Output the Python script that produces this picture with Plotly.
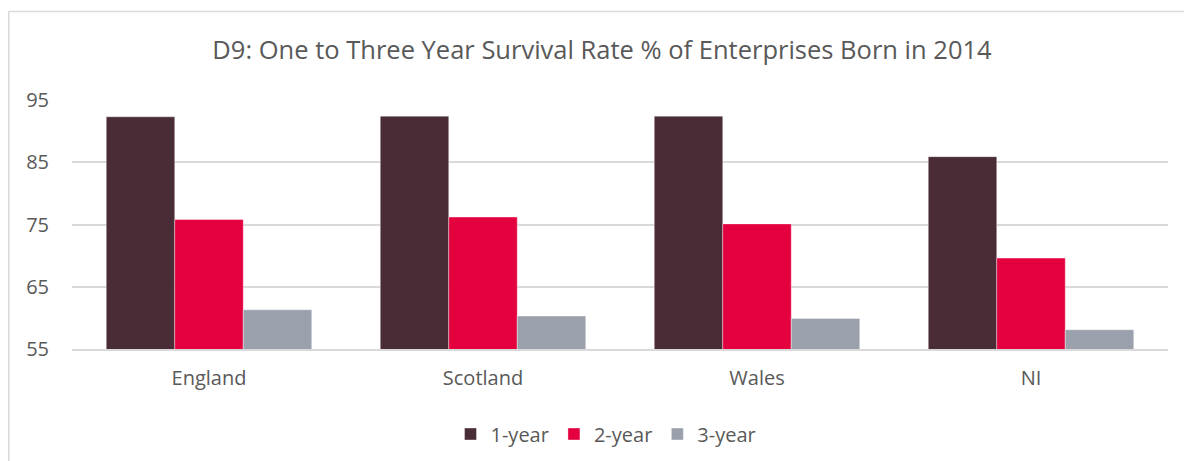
import plotly.graph_objects as go

categories = ["England", "Scotland", "Wales", "NI"]
one_year = [92.3, 92.4, 92.4, 85.9]
two_year = [75.8, 76.2, 75.1, 69.6]
three_year = [61.3, 60.3, 59.9, 58.1]
series_names = ["1-year", "2-year", "3-year"]
colors = ["#4a2c37", "#e4003e", "#9aa0ac"]
y_ticks = [55, 65, 75, 85, 95]

FONT = "Open Sans"
OFF = 8  # page body margin
W, H = 1192 - OFF, 461 - OFF
# plot area in screen pixels: x 72..1168, y 100..349
ml, mr, mt, mb = 72 - OFF, 1192 - 1168, 100 - OFF, 461 - 349
pw, ph = W - ml - mr, H - mt - mb

fig = go.Figure()
for name, vals, c in zip(series_names, [one_year, two_year, three_year], colors):
    fig.add_trace(go.Bar(
        x=categories, y=vals, name=name,
        marker=dict(color=c, line=dict(color="rgba(255,255,255,0.5)", width=0.75)),
    ))

def px_x(p):
    # p: screen pixel
    return (p - OFF - ml) / pw

def px_y(p):
    return (H - mb - (p - OFF)) / ph

shapes = [
    dict(type="line", xref="paper", yref="paper", x0=px_x(8.5), x1=px_x(1192), y0=px_y(11.5), y1=px_y(11.5),
         line=dict(color="#d9d9d9", width=1.5)),
    dict(type="line", xref="paper", yref="paper", x0=px_x(8.75), x1=px_x(8.75), y0=px_y(11.5), y1=px_y(461),
         line=dict(color="#d9d9d9", width=1.5)),
]

fig.update_layout(
    width=W, height=H,
    margin=dict(l=ml, r=mr, t=mt, b=mb, pad=0, autoexpand=False),
    paper_bgcolor="white", plot_bgcolor="white",
    barmode="group", bargap=0.25, bargroupgap=0,
    title=dict(text="D9: One to Three Year Survival Rate % of Enterprises Born in 2014",
               x=(602 - OFF) / W, xanchor="center", xref="container",
               y=1 - (50 - OFF) / H, yanchor="middle", yref="container",
               font=dict(family=FONT, size=25.5, color="#595959")),
    font=dict(family=FONT, color="#595959"),
    legend=dict(orientation="h", x=px_x(606), xanchor="center", xref="paper", y=px_y(434), yanchor="middle",
                font=dict(family=FONT, size=20, color="#595959"), traceorder="normal",
                itemwidth=30),
    shapes=shapes,
    showlegend=True,
)
fig.update_yaxes(range=[55, 95], tickvals=y_ticks, showgrid=True, gridcolor="#d9d9d9", gridwidth=1.5,
                 zeroline=False, showline=False, ticks="outside", ticklen=18, tickcolor="rgba(0,0,0,0)",
                 tickfont=dict(family=FONT, size=20, color="#595959"), fixedrange=True)
fig.update_xaxes(showline=True, linecolor="#d9d9d9", linewidth=1.5, ticks="outside", ticklen=10,
                 tickcolor="rgba(0,0,0,0)", tickfont=dict(family=FONT, size=20, color="#595959"))

fig.write_html("out.html")
